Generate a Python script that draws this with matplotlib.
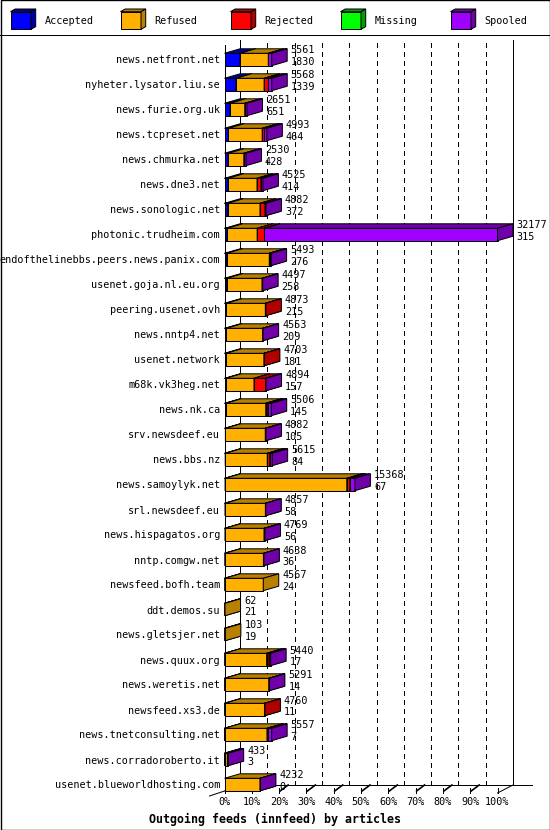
import matplotlib
matplotlib.use("Agg")
import matplotlib.pyplot as plt
from matplotlib.patches import Polygon, Rectangle

plt.rcParams['font.family'] = ['DejaVu Sans Mono']
plt.rcParams['lines.scale_dashes'] = False

hosts = [
    'news.netfront.net', 'nyheter.lysator.liu.se', 'news.furie.org.uk',
    'news.tcpreset.net', 'news.chmurka.net', 'news.dne3.net',
    'news.sonologic.net', 'photonic.trudheim.com',
    'endofthelinebbs.peers.news.panix.com', 'usenet.goja.nl.eu.org',
    'peering.usenet.ovh', 'news.nntp4.net', 'usenet.network',
    'm68k.vk3heg.net', 'news.nk.ca', 'srv.newsdeef.eu', 'news.bbs.nz',
    'news.samoylyk.net', 'srl.newsdeef.eu', 'news.hispagatos.org',
    'nntp.comgw.net', 'newsfeed.bofh.team', 'ddt.demos.su',
    'news.gletsjer.net', 'news.quux.org', 'news.weretis.net',
    'newsfeed.xs3.de', 'news.tnetconsulting.net', 'news.corradoroberto.it',
    'usenet.blueworldhosting.com',
]
offered = [5561, 5568, 2651, 4993, 2530, 4525, 4882, 32177, 5493, 4497,
           4873, 4553, 4703, 4894, 5506, 4882, 5615, 15368, 4857, 4769,
           4638, 4567, 62, 103, 5440, 5291, 4760, 5557, 433, 4232]
accepted = [1830, 1339, 651, 464, 428, 414, 372, 315, 276, 258,
            215, 209, 181, 157, 145, 105, 84, 67, 58, 56,
            36, 24, 21, 19, 17, 14, 11, 7, 3, 0]
refused = [3330, 3330, 1735, 3980, 1850, 3420, 3810, 3535, 5000, 4160,
           4598, 4280, 4462, 3320, 4715, 4700, 4956, 14345, 4760, 4600,
           4550, 4543, 41, 84, 4950, 5200, 4700, 5000, 330, 4180]
rejected = [0, 500, 0, 260, 0, 470, 590, 860, 30, 0,
            60, 0, 60, 1370, 235, 0, 270, 350, 0, 0,
            0, 0, 0, 0, 270, 0, 49, 150, 0, 0]
missing = [0, 0, 0, 0, 0, 0, 0, 0, 0, 0,
           0, 0, 0, 0, 0, 0, 0, 0, 0, 0,
           0, 0, 0, 0, 0, 0, 0, 0, 0, 0]
spooled = [401, 399, 265, 289, 252, 221, 110, 27467, 187, 79,
           0, 64, 0, 47, 411, 77, 305, 606, 39, 113,
           52, 0, 0, 0, 203, 77, 0, 400, 100, 52]

series_names = ['Accepted', 'Refused', 'Rejected', 'Missing', 'Spooled']
series = [accepted, refused, rejected, missing, spooled]
face_colors = ['#0000ff', '#ffb000', '#ff0000', '#00ff00', '#a000ff']
dark_colors = ['#0000a0', '#b88000', '#b00000', '#00a000', '#7000a8']

W, H = 550, 830
LW = 0.72  # one pixel
fig = plt.figure(figsize=(W / 100, H / 100), dpi=100)
fig.patch.set_facecolor('white')

# front plane of the plot, in pixels
left_px, right_px = 224.5, 497.5
top_px, bottom_px = 45.0, 793.0
row0_px, row_step = 59.5, 25.0

ax = fig.add_axes([left_px / W, 1 - bottom_px / H,
                   (right_px - left_px) / W, (bottom_px - top_px) / H])
n = len(hosts)
ax.set_xlim(0, 100)
ymax = (bottom_px - row0_px) / row_step
ymin = (top_px - row0_px) / row_step
ax.set_ylim(ymax, ymin)
ax.patch.set_visible(False)
for sp in ax.spines.values():
    sp.set_visible(False)

px_x = 100.0 / (right_px - left_px)
px_y = 1.0 / row_step
ddx = 15.5 * px_x   # depth of the 3d effect
ddy = 4.5 * px_y
gdx = 15.5 * px_x   # depth of the back wall

# back wall and floor
back_top = ymin - 5 * px_y
back_bot = ymax - 8 * px_y
for p in range(10, 100, 10):
    ax.plot([p + gdx, p + gdx], [back_bot, back_top], color='k', lw=LW,
            ls=(0, (3, 3)), clip_on=False, zorder=1, antialiased=False)
ax.plot([gdx, gdx], [back_bot, back_top], color='k', lw=LW, clip_on=False, zorder=1)
ax.plot([100 + gdx, 100 + gdx], [back_bot, back_top], color='k', lw=LW, clip_on=False, zorder=1)
ax.plot([0, 0], [ymin, ymax], color='k', lw=LW, clip_on=False, zorder=1)
ax.plot([gdx, 100 + gdx + 19 * px_x], [back_bot, back_bot], color='k', lw=LW,
        clip_on=False, zorder=1)
ax.plot([100, 100 + gdx], [ymax, back_bot], color='k', lw=LW, clip_on=False, zorder=1)
ax.plot([0, -15 * px_x], [ymax - 2 * px_y, ymax + 3 * px_y], color='k', lw=LW,
        clip_on=False, zorder=1)
for p in range(0, 101, 10):
    ax.plot([p, p], [back_bot + 3 * px_y, ymax], color='k', lw=LW, clip_on=False, zorder=1)
    if p < 100:
        ax.plot([p + 1 * px_x, p + 9 * px_x], [ymax - 2 * px_y, back_bot], color='k',
                lw=1.2, clip_on=False, zorder=1)

# stacked 3d bars
scale = 100.0 / max(offered)
half = 6.2 * px_y
for i in range(n):
    x = 0.0
    for s, vals in enumerate(series):
        w = vals[i] * scale
        if w <= 0:
            continue
        x0, x1 = x, x + w
        yt, yb = i - half, i + half
        ax.add_patch(Rectangle((x0, yt), w, 2 * half, fc=face_colors[s], ec='k',
                               lw=LW, clip_on=False, zorder=3))
        ax.add_patch(Polygon([(x0, yt), (x1, yt), (x1 + ddx, yt - ddy), (x0 + ddx, yt - ddy)],
                             closed=True, fc=dark_colors[s], ec='k', lw=LW,
                             clip_on=False, zorder=3))
        ax.add_patch(Polygon([(x1, yt), (x1, yb), (x1 + ddx, yb - ddy), (x1 + ddx, yt - ddy)],
                             closed=True, fc=dark_colors[s], ec='k', lw=LW,
                             clip_on=False, zorder=3))
        x = x1
    tx = x + ddx + 3.5 * px_x
    ax.text(tx, i - 9 * px_y, str(offered[i]), ha='left', va='center',
            fontsize=7.3, zorder=4, clip_on=False)
    ax.text(tx, i + 2.5 * px_y, str(accepted[i]), ha='left', va='center',
            fontsize=7.3, zorder=4, clip_on=False)

ax.set_yticks(range(n))
ax.set_yticklabels(hosts)
ax.tick_params(axis='y', length=0, pad=3.3, labelsize=7.3)
ticks = list(range(0, 101, 10))
ax.set_xticks(ticks)
ax.set_xticklabels([f'{p}%' for p in ticks])
ax.tick_params(axis='x', length=0, pad=3.0, labelsize=7.3)

# overlay in pixel units: legend, frame, title
ov = fig.add_axes([0, 0, 1, 1])
ov.set_xlim(0, W)
ov.set_ylim(H, 0)
ov.axis('off')
ov.add_patch(Rectangle((0.5, 0.5), W - 1, H - 1, fill=False, ec='k', lw=1.0, clip_on=False))
ov.plot([0, W], [35.5, 35.5], color='k', lw=LW)
bw, bh, bdx, bdy = 20.5, 17.6, 4.7, 2.7
for k, name in enumerate(series_names):
    x0, y0 = 10.5 + 110 * k, 11.7
    ov.add_patch(Rectangle((x0, y0), bw, bh, fc=face_colors[k], ec='k', lw=LW))
    ov.add_patch(Polygon([(x0, y0), (x0 + bw, y0), (x0 + bw + bdx, y0 - bdy), (x0 + bdx, y0 - bdy)],
                         closed=True, fc=dark_colors[k], ec='k', lw=LW))
    ov.add_patch(Polygon([(x0 + bw, y0), (x0 + bw, y0 + bh), (x0 + bw + bdx, y0 + bh - bdy),
                          (x0 + bw + bdx, y0 - bdy)],
                         closed=True, fc=dark_colors[k], ec='k', lw=LW))
    ov.text(x0 + 34, 20.5, name, ha='left', va='center', fontsize=7.3)

ov.text(275, 819.5, 'Outgoing feeds (innfeed) by articles', ha='center', va='center',
        fontsize=8.4, fontweight='bold')

fig.savefig('out.png', dpi=100)
